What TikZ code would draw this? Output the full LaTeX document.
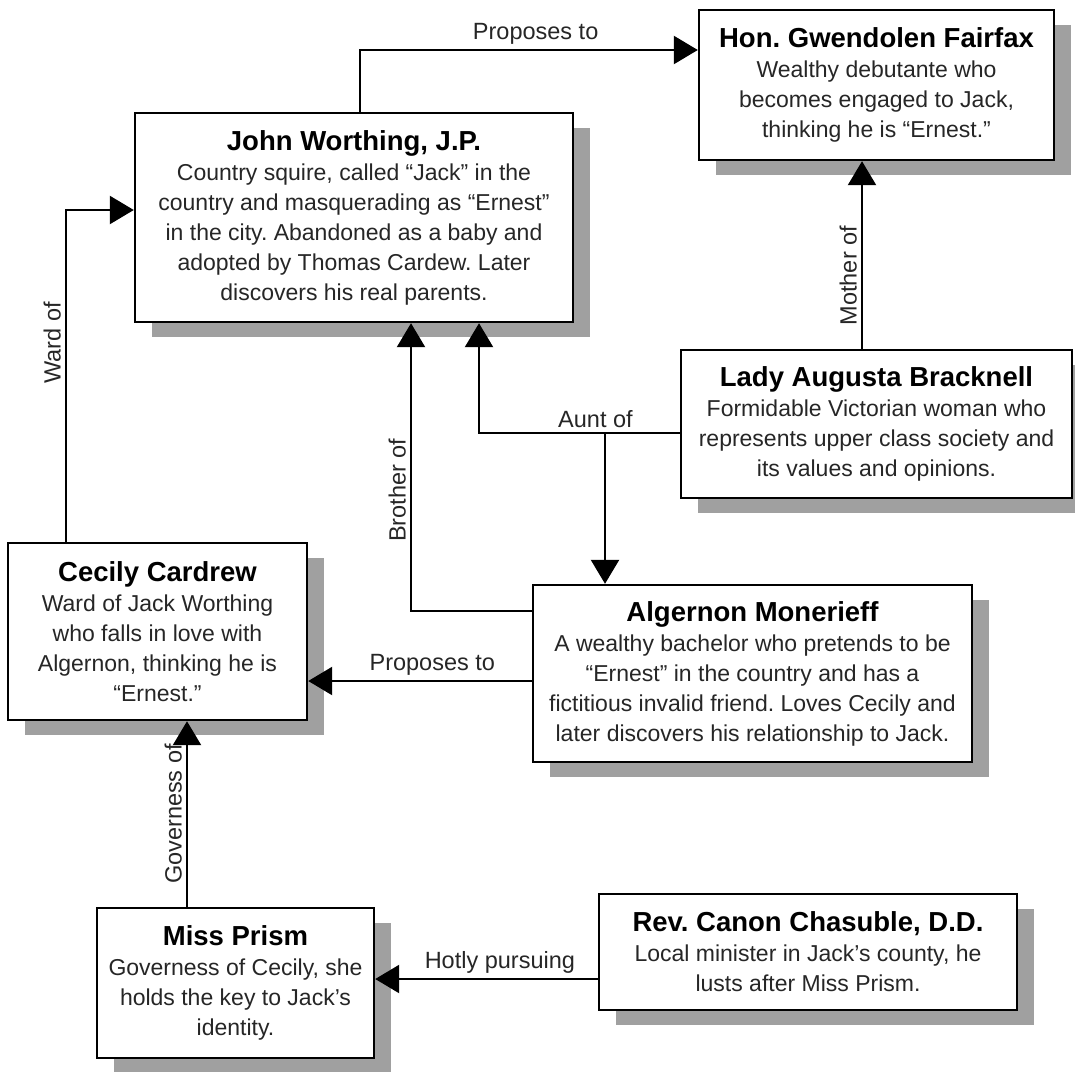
\documentclass[tikz,border=0pt]{standalone}
\usepackage{fontspec}
\setmainfont{Liberation Sans}
\usetikzlibrary{arrows.meta,shadows}
\definecolor{shade}{HTML}{A0A0A0}
\definecolor{ink}{HTML}{262626}
\tikzset{
person/.style={draw=black, line width=2.4pt, fill=white, align=center, inner sep=0pt,
  text=ink, font=\fontsize{23}{30}\selectfont\frenchspacing,
  drop shadow={shadow xshift=17pt, shadow yshift=-15pt, fill=shade, opacity=1}},
link/.style={line width=2.4pt, -{Triangle[length=24pt,width=28pt]}},
tag/.style={font=\fontsize{23.5}{26}\selectfont, text=ink, inner sep=4pt},
}
\newcommand{\who}[1]{{\color{black}\fontsize{27.5}{30}\selectfont\bfseries #1}}

\begin{document}
\begin{tikzpicture}[x=1pt,y=-1pt]
\useasboundingbox (0,0) rectangle (1075,1071);

% characters
\node[person, minimum width=438, minimum height=209] (jack) at (354,217.5)
  {\who{John Worthing, J.P.}\\
   Country squire, called “Jack” in the\\
   country and masquerading as “Ernest”\\
   in the city. Abandoned as a baby and\\
   adopted by Thomas Cardew. Later\\
   discovers his real parents.};
\node[person, minimum width=355, minimum height=150] (gwen) at (876.5,85)
  {\who{Hon. Gwendolen Fairfax}\\
   Wealthy debutante who\\
   becomes engaged to Jack,\\
   thinking he is “Ernest.”};
\node[person, minimum width=391, minimum height=148] (lady) at (876.5,424)
  {\who{Lady Augusta Bracknell}\\
   Formidable Victorian woman who\\
   represents upper class society and\\
   its values and opinions.};
\node[person, minimum width=299, minimum height=177] (cecily) at (157.5,631.5)
  {\who{Cecily Cardrew}\\
   Ward of Jack Worthing\\
   who falls in love with\\
   Algernon, thinking he is\\
   “Ernest.”};
\node[person, minimum width=439, minimum height=177] (alg) at (752.5,673.5)
  {\who{Algernon Monerieff}\\
   A wealthy bachelor who pretends to be\\
   “Ernest” in the country and has a\\
   fictitious invalid friend. Loves Cecily and\\
   later discovers his relationship to Jack.};
\node[person, minimum width=277, minimum height=150] (prism) at (235.5,983)
  {\who{Miss Prism}\\
   Governess of Cecily, she\\
   holds the key to Jack’s\\
   identity.};
\node[person, minimum width=418, minimum height=116] (chas) at (808,952)
  {\who{Rev. Canon Chasuble, D.D.}\\
   Local minister in Jack’s county, he\\
   lusts after Miss Prism.};

% relations
\draw[link] ([xshift=6]jack.north) |- ([yshift=35]gwen.west)
  node[tag, pos=.76, anchor=south] {Proposes to};
\draw[link] ([xshift=-91.5]cecily.north) |- ([yshift=7.5]jack.west)
  node[tag, pos=.3, rotate=90, anchor=south] {Ward of};
\draw[link] ([xshift=-14.5]lady.north) -- ([xshift=-14.5]lady.north |- gwen.south)
  node[tag, pos=.39, rotate=90, anchor=south] {Mother of};
\draw[link] ([yshift=62.5]alg.west) -| ([xshift=57]jack.south)
  node[tag, pos=.71, rotate=90, anchor=south] {Brother of};
\draw[link] ([yshift=-9]lady.west) -| ([xshift=125]jack.south)
  node[tag, pos=.21, anchor=south] {Aunt of};
\coordinate (aunt) at (605,433);
\draw[link] (aunt) -- (aunt |- alg.north);
\draw[link] ([yshift=-7.5]alg.west) -- ([yshift=-7.5]alg.west -| cecily.east)
  node[tag, pos=.445, anchor=south] {Proposes to};
\draw[link] ([xshift=-48.5]prism.north) -- ([xshift=-48.5]prism.north |- cecily.south)
  node[tag, pos=.5, rotate=90, anchor=south] {Governess of};
\draw[link] ([yshift=-27]chas.west) -- ([yshift=-27]chas.west -| prism.east)
  node[tag, pos=.44, anchor=south] {Hotly pursuing};
\end{tikzpicture}
\end{document}
